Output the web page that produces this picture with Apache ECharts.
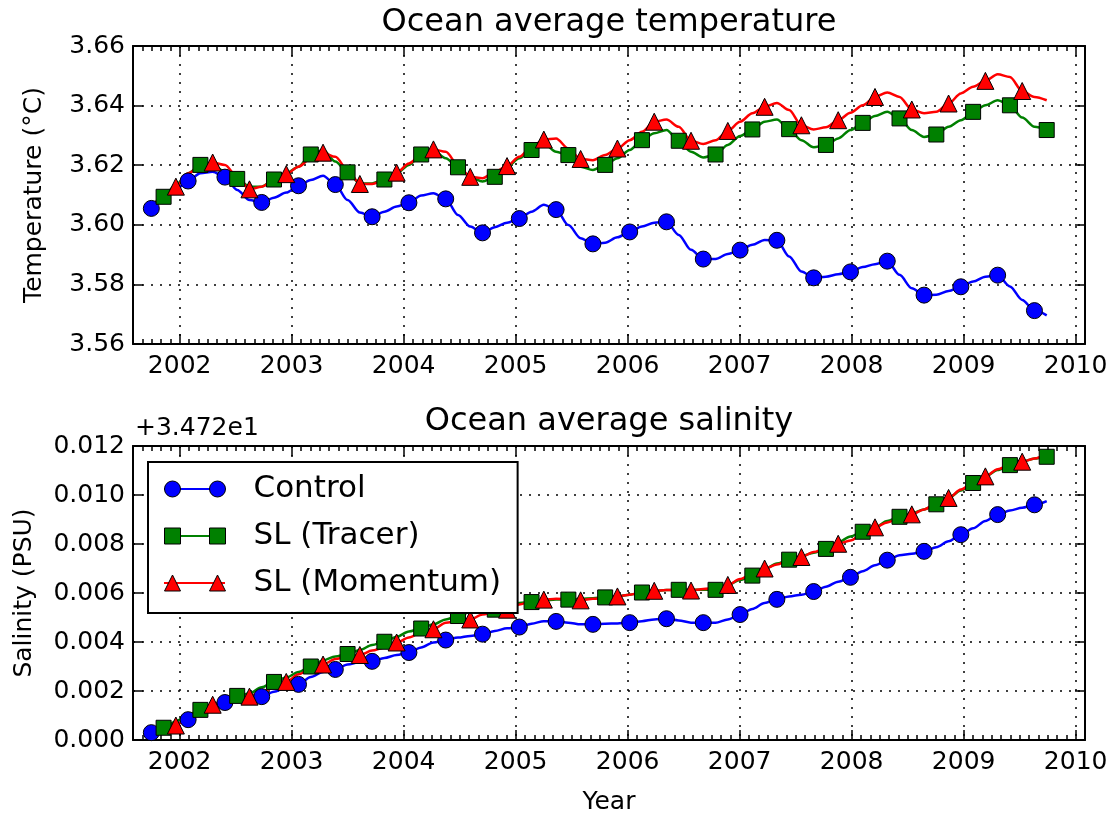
<!DOCTYPE html>
<html>
<head>
<meta charset="utf-8">
<script src="https://cdn.jsdelivr.net/npm/echarts@6/dist/echarts.min.js"></script>
<style>
html, body { margin: 0; padding: 0; background: #fff; }
#chart { width: 1111px; height: 816px; }
</style>
</head>
<body>
<div id="chart"></div>
<script>
// sample times: every 40 days starting late Sept 2001 (decimal years)
const sampleStart = 2001.747;
const sampleStep = 40 / 365.25;
const years = [2002, 2003, 2004, 2005, 2006, 2007, 2008, 2009, 2010];

// ocean average temperature (degC)
const tempControl = [
  3.6055, 3.6089, 3.6119, 3.6147, 3.6173, 3.6178, 3.6160, 3.6117, 3.6083, 3.6075,
  3.6091, 3.6108, 3.6131, 3.6150, 3.6165, 3.6135, 3.6083, 3.6041, 3.6027, 3.6044,
  3.6061, 3.6074, 3.6098, 3.6106, 3.6087, 3.6033, 3.5994, 3.5973, 3.5992, 3.6007,
  3.6021, 3.6044, 3.6067, 3.6051, 3.5999, 3.5955, 3.5936, 3.5940, 3.5958, 3.5976,
  3.5994, 3.6007, 3.6010, 3.5966, 3.5916, 3.5885, 3.5885, 3.5902, 3.5915, 3.5933,
  3.5949, 3.5948, 3.5894, 3.5843, 3.5822, 3.5826, 3.5834, 3.5842, 3.5858, 3.5868,
  3.5878, 3.5832, 3.5787, 3.5764, 3.5765, 3.5778, 3.5792, 3.5810, 3.5826, 3.5831,
  3.5793, 3.5748, 3.5712, 3.5696
];
const tempTracer = [
  3.6061, 3.6094, 3.6134, 3.6173, 3.6201, 3.6201, 3.6178, 3.6154, 3.6128, 3.6128,
  3.6152, 3.6173, 3.6195, 3.6236, 3.6251, 3.6212, 3.6176, 3.6139, 3.6139, 3.6152,
  3.6173, 3.6201, 3.6236, 3.6251, 3.6223, 3.6193, 3.6161, 3.6145, 3.6161, 3.6195,
  3.6223, 3.6251, 3.6273, 3.6245, 3.6234, 3.6195, 3.6184, 3.6201, 3.6223, 3.6251,
  3.6284, 3.6307, 3.6318, 3.6282, 3.6245, 3.6226, 3.6236, 3.6268, 3.6298, 3.6320,
  3.6346, 3.6353, 3.6321, 3.6284, 3.6260, 3.6268, 3.6290, 3.6318, 3.6342, 3.6365,
  3.6379, 3.6357, 3.6318, 3.6295, 3.6303, 3.6329, 3.6351, 3.6379, 3.6401, 3.6418,
  3.6401, 3.6360, 3.6329, 3.6318
];
const tempMomentum = [
  3.6055, 3.6094, 3.6128, 3.6173, 3.6195, 3.6209, 3.6201, 3.6161, 3.6119, 3.6128,
  3.6150, 3.6170, 3.6195, 3.6223, 3.6242, 3.6228, 3.6184, 3.6137, 3.6137, 3.6150,
  3.6175, 3.6206, 3.6234, 3.6253, 3.6245, 3.6201, 3.6161, 3.6156, 3.6178, 3.6197,
  3.6228, 3.6262, 3.6286, 3.6290, 3.6256, 3.6221, 3.6217, 3.6234, 3.6256, 3.6284,
  3.6312, 3.6346, 3.6353, 3.6329, 3.6282, 3.6271, 3.6284, 3.6315, 3.6346, 3.6374,
  3.6396, 3.6409, 3.6385, 3.6334, 3.6320, 3.6327, 3.6351, 3.6376, 3.6401, 3.6429,
  3.6444, 3.6429, 3.6387, 3.6374, 3.6379, 3.6407, 3.6441, 3.6463, 3.6483, 3.6505,
  3.6496, 3.6449, 3.6429, 3.6418
];

// ocean average salinity, minus 34.72 PSU
const salControl = [
  0.00030, 0.00050, 0.00066, 0.00083, 0.00110, 0.00139, 0.00153, 0.00161, 0.00170, 0.00177,
  0.00197, 0.00215, 0.00227, 0.00257, 0.00278, 0.00288, 0.00308, 0.00318, 0.00321, 0.00335,
  0.00347, 0.00357, 0.00378, 0.00398, 0.00408, 0.00418, 0.00425, 0.00432, 0.00445, 0.00456,
  0.00461, 0.00475, 0.00485, 0.00484, 0.00479, 0.00472, 0.00472, 0.00475, 0.00476, 0.00479,
  0.00485, 0.00492, 0.00495, 0.00488, 0.00479, 0.00479, 0.00479, 0.00492, 0.00512, 0.00535,
  0.00559, 0.00574, 0.00586, 0.00593, 0.00606, 0.00626, 0.00646, 0.00664, 0.00689, 0.00713,
  0.00734, 0.00754, 0.00760, 0.00770, 0.00787, 0.00811, 0.00838, 0.00864, 0.00894, 0.00920,
  0.00937, 0.00948, 0.00960, 0.00975
];
const salTracer = [
  0.00030, 0.00050, 0.00076, 0.00103, 0.00123, 0.00144, 0.00166, 0.00180, 0.00190, 0.00215,
  0.00237, 0.00255, 0.00278, 0.00300, 0.00325, 0.00341, 0.00351, 0.00367, 0.00388, 0.00401,
  0.00421, 0.00443, 0.00455, 0.00472, 0.00492, 0.00506, 0.00522, 0.00528, 0.00532, 0.00550,
  0.00559, 0.00563, 0.00569, 0.00573, 0.00573, 0.00577, 0.00579, 0.00582, 0.00586, 0.00593,
  0.00602, 0.00609, 0.00612, 0.00613, 0.00613, 0.00613, 0.00613, 0.00633, 0.00653, 0.00671,
  0.00697, 0.00720, 0.00736, 0.00751, 0.00764, 0.00780, 0.00807, 0.00831, 0.00850, 0.00868,
  0.00894, 0.00911, 0.00925, 0.00941, 0.00962, 0.00988, 0.01018, 0.01049, 0.01076, 0.01102,
  0.01122, 0.01136, 0.01149, 0.01156
];
const salMomentum = [
  0.00032, 0.00046, 0.00059, 0.00097, 0.00123, 0.00144, 0.00164, 0.00174, 0.00177, 0.00197,
  0.00215, 0.00237, 0.00268, 0.00291, 0.00308, 0.00331, 0.00341, 0.00347, 0.00365, 0.00378,
  0.00398, 0.00418, 0.00439, 0.00452, 0.00479, 0.00485, 0.00492, 0.00512, 0.00523, 0.00532,
  0.00553, 0.00566, 0.00573, 0.00577, 0.00575, 0.00570, 0.00577, 0.00579, 0.00586, 0.00593,
  0.00602, 0.00609, 0.00612, 0.00613, 0.00610, 0.00616, 0.00620, 0.00633, 0.00657, 0.00680,
  0.00700, 0.00716, 0.00734, 0.00747, 0.00767, 0.00783, 0.00801, 0.00814, 0.00841, 0.00868,
  0.00888, 0.00904, 0.00921, 0.00941, 0.00966, 0.00988, 0.01022, 0.01049, 0.01076, 0.01105,
  0.01122, 0.01136, 0.01149, 0.01169
];

const FONT = 'DejaVu Sans';
const xMin = 2001 + 7 / 12;
const xMax = 2010 + 1 / 12;
// monthly minor ticks
const monthTicks = [];
for (let m = 2001 * 12 + 8; m <= 2010 * 12; m++) monthTicks.push(m / 12);

const black = { color: '#000', width: 2 };
const gridLine = { color: '#000', width: 1.5, type: [2, 7] };

function xAxes(gridIndex) {
  const base = {
    type: 'value', gridIndex: gridIndex, min: xMin, max: xMax,
    axisLine: { show: false, onZero: false },
    axisLabel: { show: false },
    splitLine: { show: false }
  };
  const tick = (vals, len) => ({ show: true, inside: true, length: len, customValues: vals, lineStyle: { color: '#000', width: 1.5 } });
  return [
    Object.assign({}, base, {
      position: 'bottom',
      axisLine: { show: true, onZero: false, lineStyle: black },
      axisTick: tick(years, 10),
      axisLabel: { show: true, customValues: years, formatter: v => String(v), color: '#000', fontSize: 25, fontFamily: FONT, margin: 10 },
      splitLine: { show: true, lineStyle: gridLine },
      name: gridIndex === 1 ? 'Year' : '',
      nameLocation: 'middle', nameGap: 50,
      nameTextStyle: { color: '#000', fontSize: 25, fontFamily: FONT }
    }),
    Object.assign({}, base, { position: 'top', axisLine: { show: true, onZero: false, lineStyle: black }, axisTick: tick(years, 10) }),
    Object.assign({}, base, { position: 'bottom', axisTick: tick(monthTicks, 5) }),
    Object.assign({}, base, { position: 'top', axisTick: tick(monthTicks, 5) })
  ];
}

function yAxes(gridIndex, min, max, interval, digits, name, nameGap) {
  return [
    {
      type: 'value', gridIndex: gridIndex, position: 'left', min: min, max: max, interval: interval,
      axisLine: { show: true, onZero: false, lineStyle: black },
      axisTick: { inside: true, length: 10, lineStyle: { color: '#000', width: 1.5 } },
      axisLabel: { formatter: v => v.toFixed(digits), color: '#000', fontSize: 25, fontFamily: FONT, margin: 8 },
      splitLine: { show: true, lineStyle: gridLine },
      name: name, nameLocation: 'middle', nameGap: nameGap,
      nameTextStyle: { color: '#000', fontSize: 25, fontFamily: FONT }
    },
    {
      type: 'value', gridIndex: gridIndex, position: 'right', min: min, max: max, interval: interval,
      axisLine: { show: true, onZero: false, lineStyle: black },
      axisTick: { inside: true, length: 10, lineStyle: { color: '#000', width: 1.5 } },
      axisLabel: { show: false },
      splitLine: { show: false }
    }
  ];
}

function line(name, values, color, shape, size, phase, xi, yi) {
  return {
    name: name, type: 'line', xAxisIndex: xi, yAxisIndex: yi,
    data: values.map((v, j) => [sampleStart + j * sampleStep, v]),
    color: color,
    smooth: 0.3, smoothMonotone: 'x',
    showAllSymbol: true,
    symbol: (val, p) => (p.dataIndex % 3 === phase ? shape : 'none'),
    symbolSize: size,
    itemStyle: { color: color, borderColor: '#000', borderWidth: 1 },
    lineStyle: { color: color, width: 2.5 },
    emphasis: { disabled: true }
  };
}

const icons = {
  Control: 'path://M0,8 A8,8 0 1,0 16,8 A8,8 0 1,0 0,8 Z M45,8 A8,8 0 1,0 61,8 A8,8 0 1,0 45,8 Z',
  'SL (Tracer)': 'path://M0,0 L16,0 L16,16 L0,16 Z M45,0 L61,0 L61,16 L45,16 Z',
  'SL (Momentum)': 'path://M8,0 L16,16 L0,16 Z M53,0 L61,16 L45,16 Z'
};
const names = ['Control', 'SL (Tracer)', 'SL (Momentum)'];

const legendBase = {
  orient: 'vertical', left: 148, top: 462,
  padding: [11.5, 17, 14.5, 16],
  itemWidth: 61, itemGap: 16,
  selectedMode: false
};

const chart = echarts.init(document.getElementById('chart'));
chart.setOption({
  animation: false,
  textStyle: { fontFamily: FONT },
  title: [
    { text: 'Ocean average temperature', left: 609, top: 7, textAlign: 'center', padding: 0,
      textStyle: { fontSize: 32, fontWeight: 'normal', color: '#000', fontFamily: FONT } },
    { text: 'Ocean average salinity', left: 609, top: 406, textAlign: 'center', padding: 0,
      textStyle: { fontSize: 32, fontWeight: 'normal', color: '#000', fontFamily: FONT } },
    { text: '+3.472e1', left: 135, top: 416, padding: 0,
      textStyle: { fontSize: 25, fontWeight: 'normal', color: '#000', fontFamily: FONT } }
  ],
  legend: [
    Object.assign({}, legendBase, {
      z: 4,
      data: names,
      icon: 'rect', itemHeight: 2,
      itemStyle: { borderWidth: 0 },
      backgroundColor: '#fff', borderColor: '#000', borderWidth: 2,
      textStyle: { color: 'rgba(0,0,0,0)', fontSize: 31, fontFamily: FONT, padding: [0, 0, 0, 23] }
    }),
    Object.assign({}, legendBase, {
      z: 5,
      data: names.map(n => ({ name: n, icon: icons[n] })),
      itemHeight: 16,
      itemStyle: { borderColor: '#000', borderWidth: 1 },
      textStyle: { color: '#000', fontSize: 31, fontFamily: FONT, padding: [0, 0, 0, 23] }
    })
  ],
  grid: [
    { left: 133, top: 46, width: 952, height: 298 },
    { left: 133, top: 446, width: 952, height: 298 }
  ],
  xAxis: xAxes(0).concat(xAxes(1)),
  yAxis: yAxes(0, 3.56, 3.66, 0.02, 2, 'Temperature (°C)', 86)
    .concat(yAxes(1, 0, 0.012, 0.002, 3, 'Salinity (PSU)', 96)),
  series: [
    line('Control', tempControl, '#0000ff', 'circle', 16, 0, 0, 0),
    line('SL (Tracer)', tempTracer, '#008000', 'rect', 15, 1, 0, 0),
    line('SL (Momentum)', tempMomentum, '#ff0000', 'triangle', 17, 2, 0, 0),
    line('Control', salControl, '#0000ff', 'circle', 16, 0, 4, 2),
    line('SL (Tracer)', salTracer, '#008000', 'rect', 15, 1, 4, 2),
    line('SL (Momentum)', salMomentum, '#ff0000', 'triangle', 17, 2, 4, 2)
  ]
});
</script>
</body>
</html>
